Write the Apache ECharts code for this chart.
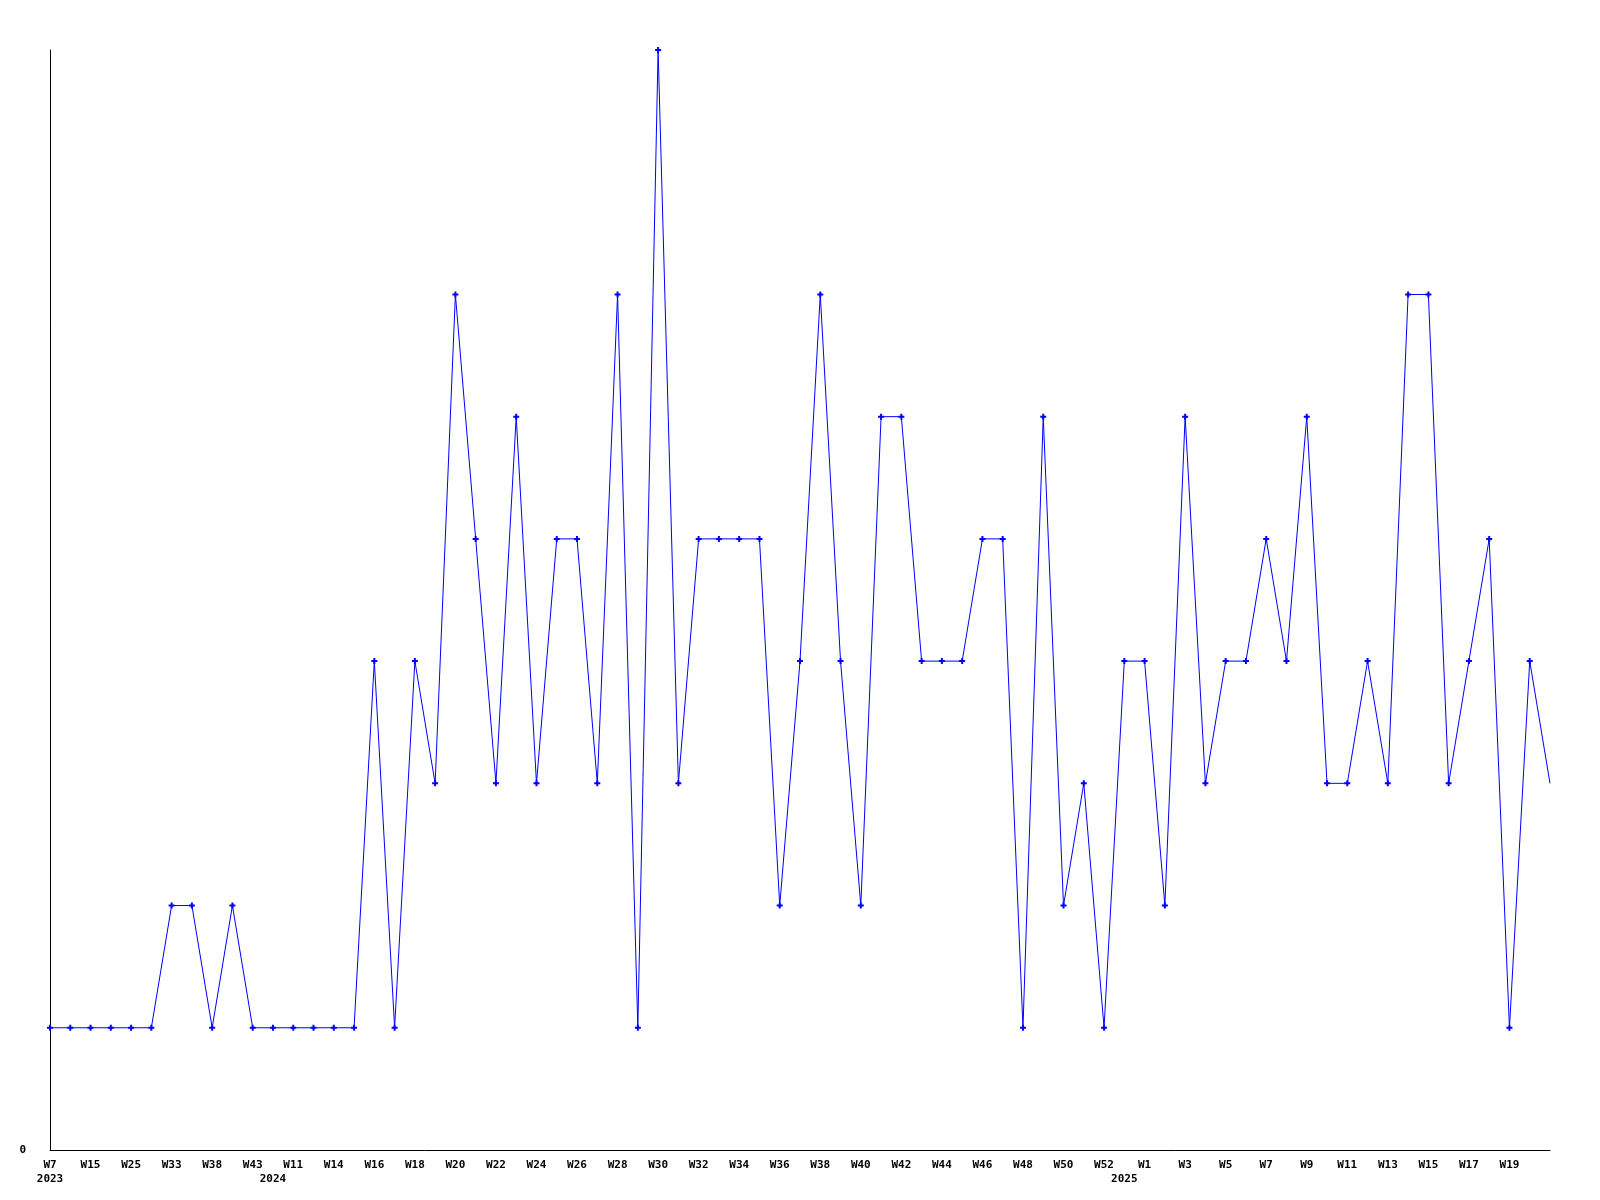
<!DOCTYPE html>
<html>
<head>
<meta charset="utf-8">
<script src="https://cdn.jsdelivr.net/npm/echarts@6/dist/echarts.min.js"></script>
<style>
html,body{margin:0;padding:0;background:#fff;}
#chart{width:1600px;height:1200px;}
</style>
</head>
<body>
<div id="chart"></div>
<script>
// Week categories (odd indices are not labelled in the reference; names are placeholders)
const weeks = [
  'W7','W10','W15','W20','W25','W29','W33','W35','W38','W40','W43',
  'W8','W11','W13','W14','W15','W16','W17','W18','W19','W20','W21','W22','W23','W24','W25','W26','W27','W28','W29',
  'W30','W31','W32','W33','W34','W35','W36','W37','W38','W39','W40','W41','W42','W43','W44','W45','W46','W47','W48',
  'W49','W50','W51','W52','W53','W1','W2','W3','W4','W5','W6','W7','W8','W9','W10','W11','W12','W13','W14','W15',
  'W16','W17','W18','W19','W20','W21'
];
// Year tick labels, aligned with the weeks array
const yearLabels = weeks.map(() => '');
yearLabels[0] = '2023';
yearLabels[11] = '2024';
yearLabels[53] = '2025';

const values = [
  1,1,1,1,1,1,2,2,1,2,1,
  1,1,1,1,1,4,1,4,3,7,5,3,6,3,5,5,3,7,1,
  9,3,5,5,5,5,2,4,7,4,2,6,6,4,4,4,5,5,1,
  6,2,3,1,4,4,2,6,3,4,4,5,4,6,3,3,4,3,7,7,
  3,4,5,1,4,3
];

const lastIdx = values.length - 1;
const seriesData = values.map((v, i) => i === lastIdx ? {value: v, symbol: 'none'} : v);

const chart = echarts.init(document.getElementById('chart'), null, {renderer: 'canvas'});
const font = 'DejaVu Sans Mono';
chart.setOption({
  animation: false,
  backgroundColor: '#ffffff',
  grid: {left: 50, right: 50, top: 50, bottom: 50, containLabel: false},
  xAxis: {
    type: 'category',
    data: weeks,
    boundaryGap: false,
    axisLine: {lineStyle: {color: '#000', width: 1}},
    axisTick: {show: false},
    splitLine: {show: false},
    axisLabel: {
      interval: (i) => i !== lastIdx && (i % 2 === 0 || yearLabels[i] !== ''),
      formatter: (val, i) => {
        const w = i % 2 === 0 ? val : '';
        return yearLabels[i] ? (w + '\n' + yearLabels[i]) : w;
      },
      color: '#000',
      fontFamily: font,
      fontWeight: 'bold',
      fontSize: 11,
      lineHeight: 14,
      margin: 8,
      verticalAlign: 'top'
    }
  },
  yAxis: {
    type: 'value',
    min: 0,
    max: 9,
    interval: 9,
    axisLine: {show: true, lineStyle: {color: '#000', width: 1}},
    axisTick: {show: false},
    splitLine: {show: false},
    axisLabel: {
      formatter: (v) => v === 0 ? '0' : '',
      color: '#000',
      fontFamily: font,
      fontWeight: 'bold',
      fontSize: 11,
      margin: 24
    }
  },
  series: [{
    type: 'line',
    data: seriesData,
    symbol: 'path://M2,0H4V2H6V4H4V6H2V4H0V2H2Z',
    symbolSize: 6,
    showAllSymbol: true,
    lineStyle: {color: '#0000ff', width: 1},
    itemStyle: {color: '#0000ff'},
    clip: false
  }]
});
</script>
</body>
</html>
